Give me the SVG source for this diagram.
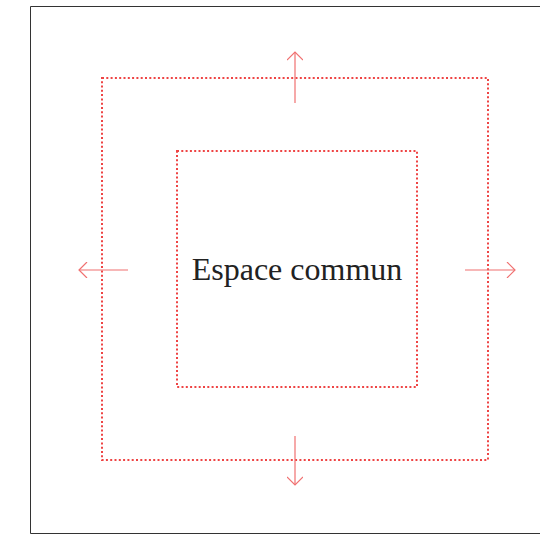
<svg xmlns="http://www.w3.org/2000/svg" width="540" height="541" viewBox="0 0 540 541">
<defs>
<style>
.frame{fill:none;stroke:#333;stroke-width:1}
.zone{fill:none;stroke:#ee4444;stroke-width:2;stroke-dasharray:2 2.3}
.arr{fill:none;stroke:#f07070;stroke-width:1.2}
.lbl{font-family:"Liberation Serif",serif;font-size:32px;fill:#222}
</style>
<marker id="ah" markerWidth="12" markerHeight="16" refX="10" refY="8" orient="auto" markerUnits="userSpaceOnUse">
<path d="M2,0 L10,8 L2,16" fill="none" stroke="#f07070" stroke-width="1.2"/>
</marker>
</defs>
<rect width="540" height="541" fill="#fff"/>
<path class="frame" d="M540,6.5 H30.5 V533.5 H540"/>
<g id="outer"><rect class="zone" x="102" y="78" width="386" height="382"/></g>
<g id="inner"><rect class="zone" x="177" y="151" width="240" height="236"/>
<text class="lbl" x="297" y="280" text-anchor="middle">Espace commun</text></g>
<g id="connectors">
<line class="arr" x1="295" y1="103" x2="295" y2="52" marker-end="url(#ah)"/>
<line class="arr" x1="295" y1="436" x2="295" y2="485" marker-end="url(#ah)"/>
<line class="arr" x1="128" y1="270" x2="79" y2="270" marker-end="url(#ah)"/>
<line class="arr" x1="465" y1="270" x2="515" y2="270" marker-end="url(#ah)"/>
</g>
</svg>
